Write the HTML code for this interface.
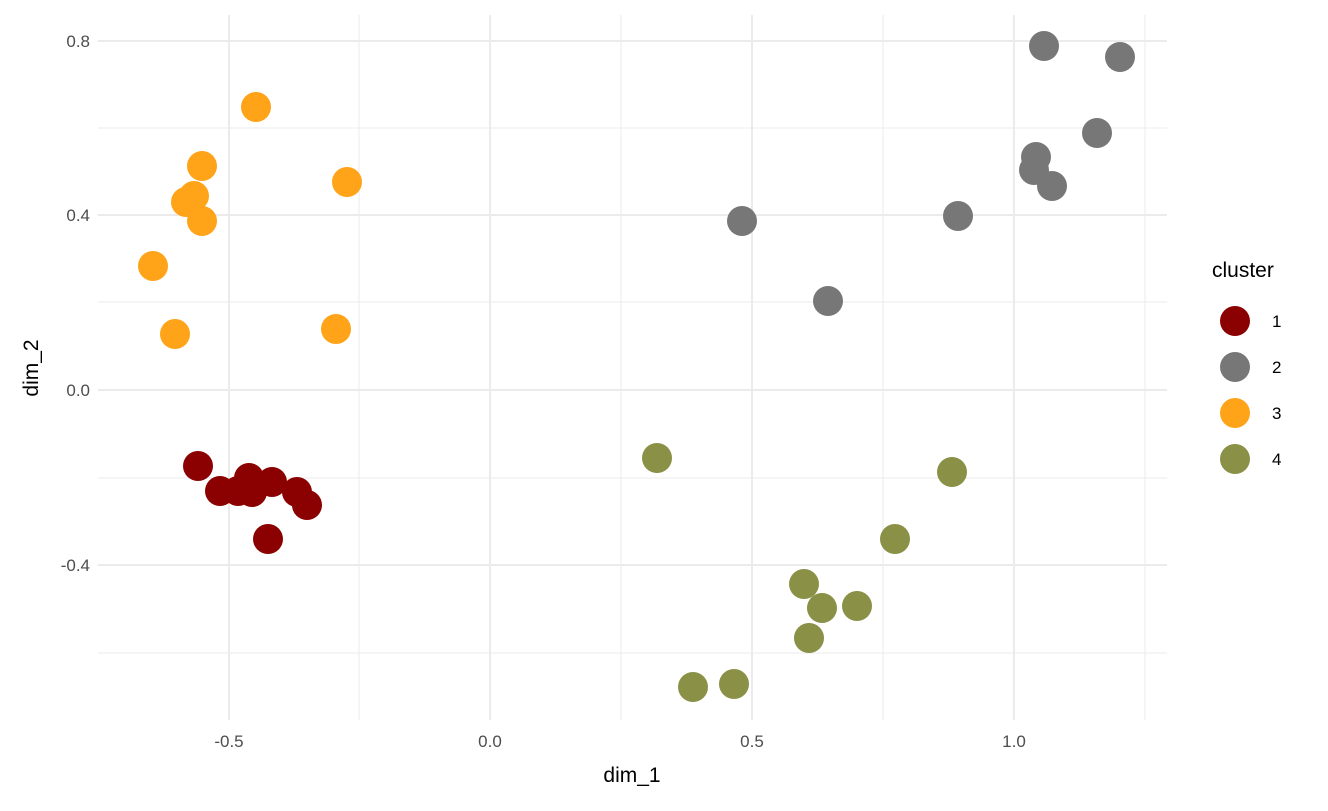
<!DOCTYPE html>
<html><head><meta charset="utf-8"><style>body{margin:0;background:#fff}</style></head><body>
<svg width="1328" height="806" xmlns="http://www.w3.org/2000/svg" font-family="Liberation Sans, sans-serif">
<rect width="1328" height="806" fill="#fff"/>
<g stroke="#ebebeb" stroke-width="1">
<line x1="359" y1="15" x2="359" y2="720"/><line x1="621" y1="15" x2="621" y2="720"/><line x1="883" y1="15" x2="883" y2="720"/><line x1="1145" y1="15" x2="1145" y2="720"/>
<line x1="98" y1="128" x2="1167" y2="128"/><line x1="98" y1="302" x2="1167" y2="302"/><line x1="98" y1="478" x2="1167" y2="478"/><line x1="98" y1="653" x2="1167" y2="653"/>
</g>
<g stroke="#ebebeb" stroke-width="2">
<line x1="229" y1="15" x2="229" y2="720"/><line x1="490" y1="15" x2="490" y2="720"/><line x1="752" y1="15" x2="752" y2="720"/><line x1="1014" y1="15" x2="1014" y2="720"/>
<line x1="98" y1="41" x2="1167" y2="41"/><line x1="98" y1="215" x2="1167" y2="215"/><line x1="98" y1="390" x2="1167" y2="390"/><line x1="98" y1="565" x2="1167" y2="565"/>
</g>
<g fill="#4d4d4d" font-size="17" text-anchor="end">
<text x="90" y="47">0.8</text><text x="90" y="221">0.4</text><text x="90" y="396">0.0</text><text x="90" y="571">-0.4</text>
</g>
<g fill="#4d4d4d" font-size="17" text-anchor="middle">
<text x="229" y="747">-0.5</text><text x="490" y="747">0.0</text><text x="752" y="747">0.5</text><text x="1014" y="747">1.0</text>
</g>
<text x="632" y="782" font-size="21" text-anchor="middle">dim_1</text>
<text transform="translate(38,368) rotate(-90)" font-size="21" text-anchor="middle">dim_2</text>
<g fill="#8b0000">
<circle cx="198" cy="466" r="15"/><circle cx="220" cy="491" r="15"/><circle cx="238" cy="491" r="15"/><circle cx="249" cy="478" r="15"/><circle cx="252" cy="492" r="15"/><circle cx="272" cy="482" r="15"/><circle cx="297" cy="492" r="15"/><circle cx="307" cy="505" r="15"/><circle cx="268" cy="539" r="15"/>
</g>
<g fill="#777777">
<circle cx="1044" cy="46" r="15"/><circle cx="1120" cy="57" r="15"/><circle cx="1097" cy="133" r="15"/><circle cx="1036" cy="157" r="15"/><circle cx="1034" cy="170" r="15"/><circle cx="1052" cy="186" r="15"/><circle cx="958" cy="216" r="15"/><circle cx="742" cy="221" r="15"/><circle cx="828" cy="301" r="15"/>
</g>
<g fill="#ffa319">
<circle cx="256" cy="107" r="15"/><circle cx="202" cy="166" r="15"/><circle cx="347" cy="182" r="15"/><circle cx="194" cy="196" r="15"/><circle cx="186" cy="202" r="15"/><circle cx="202" cy="221" r="15"/><circle cx="153" cy="266" r="15"/><circle cx="175" cy="334" r="15"/><circle cx="336" cy="329" r="15"/>
</g>
<g fill="#8a9045">
<circle cx="657" cy="458" r="15"/><circle cx="952" cy="472" r="15"/><circle cx="895" cy="539" r="15"/><circle cx="804" cy="584" r="15"/><circle cx="822" cy="608" r="15"/><circle cx="857" cy="606" r="15"/><circle cx="809" cy="638" r="15"/><circle cx="693" cy="687" r="15"/><circle cx="734" cy="684" r="15"/>
</g>
<text x="1212" y="277" font-size="21">cluster</text>
<circle cx="1235" cy="321" r="15" fill="#8b0000"/><circle cx="1235" cy="367" r="15" fill="#777777"/><circle cx="1235" cy="413" r="15" fill="#ffa319"/><circle cx="1235" cy="459" r="15" fill="#8a9045"/>
<g font-size="17"><text x="1272" y="327">1</text><text x="1272" y="373">2</text><text x="1272" y="419">3</text><text x="1272" y="465">4</text></g>
</svg>
</body></html>
